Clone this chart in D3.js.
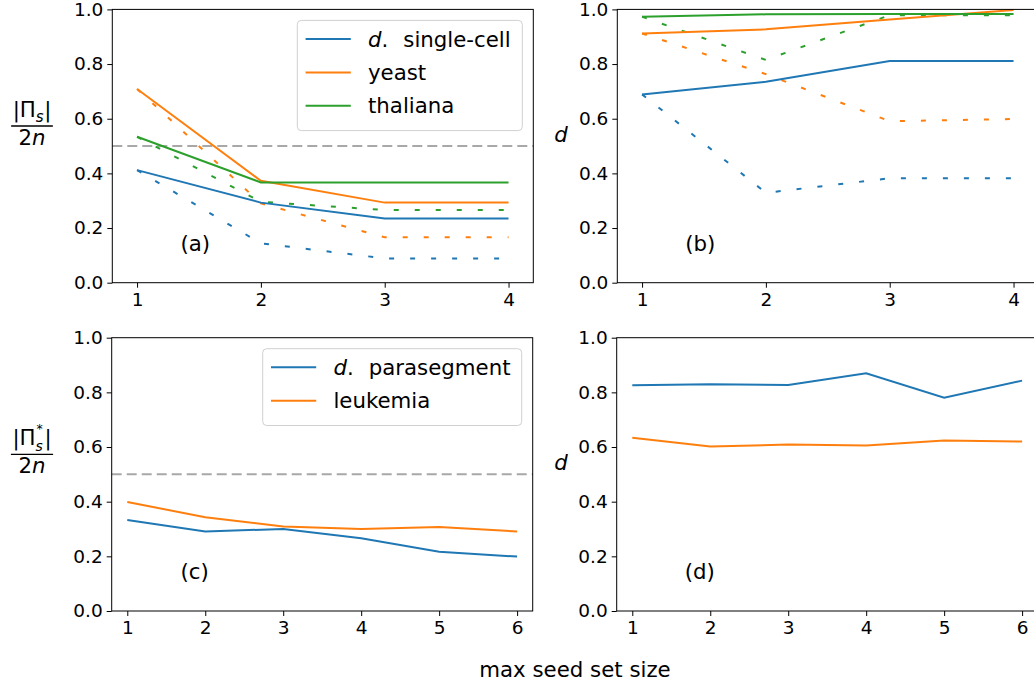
<!DOCTYPE html>
<html><head><meta charset="utf-8">
<script src="https://cdn.jsdelivr.net/npm/d3@7"></script>
<style>
body{margin:0;background:#fff}
svg{display:block;background:#fff}
text{font-family:"DejaVu Sans",sans-serif;fill:#000}
</style>
</head><body>
<svg id="chart" width="1034" height="684"></svg>
<script>
// ---------- data ----------
const seedSizesTop = [1, 2, 3, 4];
const seedSizesBottom = [1, 2, 3, 4, 5, 6];
const yTickValues = [0, 0.2, 0.4, 0.6, 0.8, 1.0];
const refValue = 0.5;

const topLegend = ["single-cell", "yeast", "thaliana"];
const bottomLegend = ["parasegment", "leukemia"];
const panelTags = ["(a)", "(b)", "(c)", "(d)"];
const xAxisTitle = "max seed set size";

// panel (a): |Pi_s| / 2n
const aSingleCell     = [0.412, 0.293, 0.235, 0.235];
const aYeast          = [0.709, 0.373, 0.293, 0.293];
const aThaliana       = [0.534, 0.367, 0.367, 0.367];
const aSingleCellDash = [0.412, 0.144, 0.089, 0.089];
const aYeastDash      = [0.709, 0.290, 0.166, 0.166];
const aThalianaDash   = [0.534, 0.296, 0.266, 0.266];

// panel (b): d
const bSingleCell     = [0.689, 0.735, 0.811, 0.811];
const bYeast          = [0.912, 0.927, 0.963, 0.998];
const bThaliana       = [0.973, 0.982, 0.983, 0.983];
const bSingleCellDash = [0.689, 0.329, 0.382, 0.382];
const bYeastDash      = [0.912, 0.763, 0.591, 0.599];
const bThalianaDash   = [0.973, 0.815, 0.979, 0.979];

// panel (c): |Pi*_s| / 2n
const cParasegment = [0.333, 0.291, 0.300, 0.266, 0.217, 0.199];
const cLeukemia    = [0.399, 0.343, 0.309, 0.300, 0.307, 0.291];

// panel (d): d
const dParasegment = [0.826, 0.830, 0.827, 0.870, 0.780, 0.843];
const dLeukemia    = [0.634, 0.602, 0.609, 0.606, 0.624, 0.620];

// ---------- layout / style ----------
const C = {blue: "#1f77b4", orange: "#ff7f0e", green: "#2ca02c"};
const W = 421, H = 273.3;
const FS_TICK = 18.5, FS_LAB = 21.3;
const svg = d3.select("#chart");

const panels = [
  {tag: panelTags[0], left: 112.3, top: 9.4, xs: seedSizesTop, ref: true, ylab: "frac", star: false,
   solid: [[aSingleCell, C.blue], [aYeast, C.orange], [aThaliana, C.green]],
   dash:  [[aSingleCellDash, C.blue], [aYeastDash, C.orange], [aThalianaDash, C.green]],
   legend: {names: topLegend, colors: [C.blue, C.orange, C.green], w: 225, italicFirst: true}},
  {tag: panelTags[1], left: 617.3, top: 9.4, xs: seedSizesTop, ref: false, ylab: "d",
   solid: [[bSingleCell, C.blue], [bYeast, C.orange], [bThaliana, C.green]],
   dash:  [[bSingleCellDash, C.blue], [bYeastDash, C.orange], [bThalianaDash, C.green]]},
  {tag: panelTags[2], left: 111.7, top: 337.7, xs: seedSizesBottom, ref: true, ylab: "frac", star: true,
   solid: [[cParasegment, C.blue], [cLeukemia, C.orange]], dash: [],
   legend: {names: bottomLegend, colors: [C.blue, C.orange], w: 259, italicFirst: true}},
  {tag: panelTags[3], left: 616.7, top: 337.7, xs: seedSizesBottom, ref: false, ylab: "d",
   solid: [[dParasegment, C.blue], [dLeukemia, C.orange]], dash: []}
];

panels.forEach(p => {
  const n = p.xs.length;
  const x = d3.scaleLinear().domain([0.8, n + 0.2]).range([p.left, p.left + W]);
  const y = d3.scaleLinear().domain([0, 1]).range([p.top + H, p.top]);
  const g = svg.append("g");

  if (p.ref) {
    g.append("line")
      .attr("x1", x(0.8)).attr("x2", x(n + 0.2))
      .attr("y1", y(refValue)).attr("y2", y(refValue))
      .attr("stroke", "#a8a8a8").attr("stroke-width", 2)
      .attr("stroke-dasharray", "10,5");
  }

  const line = d3.line().x((d, i) => x(p.xs[i])).y(d => y(d));

  p.dash.forEach(([vals, col]) => {
    g.append("path").datum(vals).attr("d", line)
      .attr("fill", "none").attr("stroke", col).attr("stroke-width", 2)
      .attr("stroke-dasharray", "5,16");
  });
  p.solid.forEach(([vals, col]) => {
    g.append("path").datum(vals).attr("d", line)
      .attr("fill", "none").attr("stroke", col).attr("stroke-width", 2);
  });

  // axes
  const xa = g.append("g").attr("transform", `translate(0,${p.top + H})`)
    .call(d3.axisBottom(x).tickValues(p.xs).tickFormat(d3.format("d")).tickSize(5).tickSizeOuter(0).tickPadding(5));
  const ya = g.append("g").attr("transform", `translate(${p.left},0)`)
    .call(d3.axisLeft(y).tickValues(yTickValues).tickFormat(d3.format(".1f")).tickSize(5).tickSizeOuter(0).tickPadding(4));
  [xa, ya].forEach(a => {
    a.select(".domain").remove();
    a.selectAll("text").attr("font-size", FS_TICK).attr("font-family", "DejaVu Sans").attr("fill", "#000");
    a.selectAll("line").attr("stroke", "#000").attr("stroke-width", 1);
  });

  // frame
  g.append("rect").attr("x", p.left).attr("y", p.top).attr("width", W).attr("height", H)
    .attr("fill", "none").attr("stroke", "#000").attr("stroke-width", 1);

  // panel tag
  g.append("text").attr("x", p.left + 83).attr("y", p.top + H - 32)
    .attr("text-anchor", "middle").attr("font-size", FS_LAB).text(p.tag);

  // legend
  if (p.legend) {
    const L = p.legend;
    const bx = p.left + W - 11 - L.w, by = p.top + 11;
    const rowH = 33.4, bh = 12 + rowH * L.names.length - 2;
    g.append("rect").attr("x", bx).attr("y", by).attr("width", L.w).attr("height", bh)
      .attr("rx", 4).attr("fill", "#fff").attr("fill-opacity", 0.8)
      .attr("stroke", "#d0d0d0").attr("stroke-width", 1);
    L.names.forEach((nm, i) => {
      const ry = by + 18.6 + i * rowH;
      g.append("line").attr("x1", bx + 8.3).attr("x2", bx + 53.5).attr("y1", ry).attr("y2", ry)
        .attr("stroke", L.colors[i]).attr("stroke-width", 2);
      const t = g.append("text").attr("x", bx + 70.7).attr("y", ry + 7.5).attr("font-size", FS_LAB);
      if (i === 0 && L.italicFirst) {
        t.append("tspan").attr("font-style", "italic").text("d");
        t.append("tspan").text(".");
        t.append("tspan").attr("dx", 15).text(nm);
      } else {
        t.text(nm);
      }
    });
  }

  // y label
  if (p.ylab === "d") {
    g.append("text").attr("x", 561).attr("y", p.top + 132.5)
      .attr("text-anchor", "middle").attr("font-size", FS_LAB).attr("font-style", "italic").text("d");
  } else {
    const barY = p.top + 116.6, cx = 32, base = barY - 9;
    const ng = g.append("g");
    const t1 = ng.append("text").attr("x", 0).attr("y", base).attr("font-size", FS_LAB).text("|Π");
    const w1 = t1.node().getComputedTextLength();
    let w2;
    if (p.star) {
      const ts = ng.append("text").attr("x", w1 + 1).attr("y", base - 12.5).attr("font-size", 12.5).text("*");
      const tsub = ng.append("text").attr("x", w1).attr("y", base + 5.5).attr("font-size", 14)
        .attr("font-style", "italic").text("s");
      w2 = Math.max(ts.node().getComputedTextLength() + 1, tsub.node().getComputedTextLength()) + 1.5;
    } else {
      const tsub = ng.append("text").attr("x", w1).attr("y", base + 5).attr("font-size", 15)
        .attr("font-style", "italic").text("s");
      w2 = tsub.node().getComputedTextLength() + 0.5;
    }
    const t3 = ng.append("text").attr("x", w1 + w2).attr("y", base).attr("font-size", FS_LAB).text("|");
    const total = w1 + w2 + t3.node().getComputedTextLength();
    ng.attr("transform", `translate(${cx - total / 2},0)`);
    const bw = total + 3;
    g.append("line").attr("x1", cx - bw / 2).attr("x2", cx + bw / 2).attr("y1", barY).attr("y2", barY)
      .attr("stroke", "#000").attr("stroke-width", 1.3);
    const den = g.append("text").attr("x", cx).attr("y", barY + 19)
      .attr("text-anchor", "middle").attr("font-size", FS_LAB);
    den.append("tspan").text("2");
    den.append("tspan").attr("font-style", "italic").text("n");
  }
});

svg.append("text").attr("x", 575).attr("y", 677).attr("text-anchor", "middle")
  .attr("font-size", FS_LAB).text(xAxisTitle);
</script>
</body></html>
